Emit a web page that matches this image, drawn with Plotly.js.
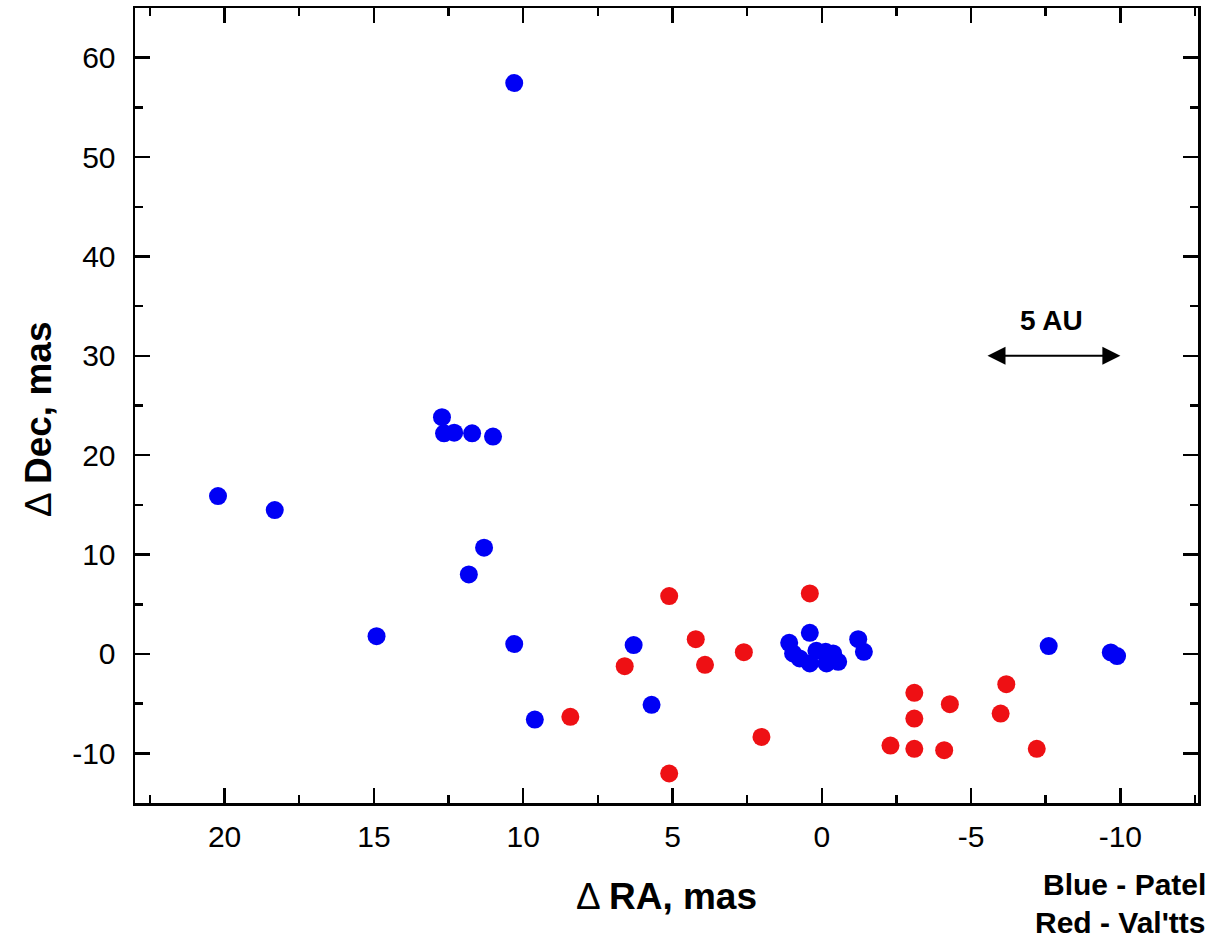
<!DOCTYPE html>
<html>
<head>
<meta charset="utf-8">
<script src="https://cdn.plot.ly/plotly-3.0.1.min.js"></script>
<style>
  html, body { margin: 0; padding: 0; background: #fff; }
  #chart { width: 1219px; height: 941px; }
</style>
</head>
<body>
<div id="chart"></div>
<script>
// Patel (blue) measurements
const patelRA  = [10.30, 20.22, 18.32, 12.72, 12.65, 12.31, 11.71, 11.01, 11.31, 11.82, 14.91, 10.30, 9.61, 6.30, 5.70, 1.09, 0.40, 0.96, 0.74, 0.40, 0.18, -0.13, -0.38, -0.16, -0.55, -1.22, -1.41, -7.60, -9.68, -9.89];
const patelDec = [57.45, 15.89, 14.48, 23.82, 22.20, 22.27, 22.20, 21.87, 10.69, 8.00, 1.79, 0.99, -6.60, 0.89, -5.12, 1.12, 2.13, 0.05, -0.45, -0.96, 0.31, 0.21, 0.05, -0.96, -0.79, 1.49, 0.21, 0.79, 0.15, -0.22];

// Val'tts (red) measurements
const valttsRA  = [5.11, 0.40, 4.22, 6.60, 3.91, 2.61, 8.42, 2.02, 5.11, -2.30, -3.10, -3.10, -3.10, -4.29, -4.10, -6.18, -5.99, -7.20];
const valttsDec = [5.82, 6.09, 1.49, -1.23, -1.09, 0.18, -6.33, -8.35, -12.03, -9.22, -3.91, -6.50, -9.55, -5.06, -9.69, -3.04, -6.00, -9.55];

// Tick labels
const xTickVals = [20, 15, 10, 5, 0, -5, -10];
const xTickText = ["20", "15", "10", "5", "0", "-5", "-10"];
const yTickVals = [-10, 0, 10, 20, 30, 40, 50, 60];
const yTickText = ["-10", "0", "10", "20", "30", "40", "50", "60"];

// Axis titles and key text
const xTitle = "Δ <b>RA, mas</b>";
const yTitle = "Δ <b>Dec, mas</b>";
const keyLines = ["Blue - Patel", "Red - Val'tts"];

// 5 AU scale bar (data coordinates)
const scaleBarStartRA = -5.5;
const scaleBarEndRA = -10.0;
const scaleBarDec = 30;
const scaleBarLabel = "5 AU";
const scaleBarLabelRA = -7.7;
const scaleBarLabelDec = 33.6;

const FONT = "Liberation Sans, Arial, sans-serif";

const traces = [
  {
    x: patelRA, y: patelDec, type: "scatter", mode: "markers", name: "Patel",
    marker: { color: "rgb(0,0,245)", size: 18 }
  },
  {
    x: valttsRA, y: valttsDec, type: "scatter", mode: "markers", name: "Val'tts",
    marker: { color: "rgb(238,16,20)", size: 18 }
  }
];

const axisCommon = {
  showgrid: false, zeroline: false,
  showline: true, linecolor: "#000", linewidth: 2.5,
  mirror: "ticks",
  ticks: "inside", ticklen: 15, tickwidth: 2.5, tickcolor: "#000",
  tickfont: { family: FONT, size: 30, color: "#000" },
};

const layout = {
  width: 1219, height: 941,
  margin: { l: 135, r: 21, t: 8, b: 138 },
  paper_bgcolor: "#fff", plot_bgcolor: "#fff",
  showlegend: false,
  font: { family: FONT, color: "#000" },
  xaxis: Object.assign({}, axisCommon, {
    range: [23.0, -12.6],
    tickmode: "array", tickvals: xTickVals, ticktext: xTickText,
    ticklabelstandoff: 5,
    minor: { dtick: 2.5, tick0: 0, ticks: "inside", ticklen: 8, tickwidth: 2.5, tickcolor: "#000" },
    title: { text: xTitle, font: { family: FONT, size: 37, color: "#000" }, standoff: 32 }
  }),
  yaxis: Object.assign({}, axisCommon, {
    range: [-15, 65],
    tickmode: "array", tickvals: yTickVals, ticktext: yTickText,
    ticklabelstandoff: 11,
    minor: { dtick: 5, tick0: 0, ticks: "inside", ticklen: 8, tickwidth: 2.5, tickcolor: "#000" }
  }),
  annotations: [
    {
      x: -0.0903, y: 0.4818, xref: "paper", yref: "paper",
      xanchor: "center", yanchor: "middle", textangle: -90, showarrow: false,
      text: yTitle, font: { family: FONT, size: 37, color: "#000" }
    },
    {
      x: scaleBarEndRA, y: scaleBarDec, ax: scaleBarStartRA, ay: scaleBarDec,
      xref: "x", yref: "y", axref: "x", ayref: "y",
      text: "", showarrow: true, arrowside: "end+start",
      arrowhead: 2, arrowsize: 1.8, arrowwidth: 2, arrowcolor: "#000"
    },
    {
      x: scaleBarLabelRA, y: scaleBarLabelDec, xref: "x", yref: "y",
      text: "<b>" + scaleBarLabel + "</b>", showarrow: false,
      font: { family: FONT, size: 28, color: "#000" }
    },
    {
      x: 1.0095, y: -0.1019, xref: "paper", yref: "paper",
      xanchor: "right", yanchor: "middle", showarrow: false,
      text: "<b>" + keyLines[0] + "</b>", font: { family: FONT, size: 30, color: "#000" }
    },
    {
      x: 1.0095, y: -0.1500, xref: "paper", yref: "paper",
      xanchor: "right", yanchor: "middle", showarrow: false,
      text: "<b>" + keyLines[1] + "</b>", font: { family: FONT, size: 30, color: "#000" }
    }
  ]
};

Plotly.newPlot("chart", traces, layout, { displayModeBar: false, staticPlot: true });
</script>
</body>
</html>
